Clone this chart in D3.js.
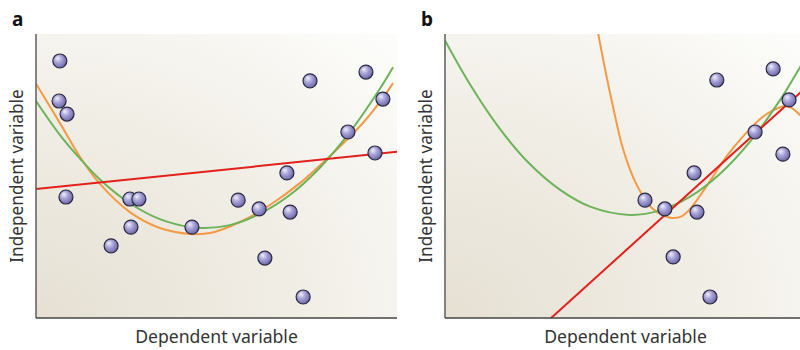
<!DOCTYPE html>
<html>
<head>
<meta charset="utf-8">
<script src="https://cdn.jsdelivr.net/npm/d3@7"></script>
<style>
  body { margin: 0; background: #fff; }
  svg { display: block; }
  text { font-family: "Noto Sans", "Open Sans", sans-serif; fill: #333; }
</style>
</head>
<body>
<div id="chart"></div>
<script>
// panel a: all observations
var pointsAX = [6.6, 6.4, 8.6, 8.3, 20.8, 26.0, 28.5, 26.3, 43.2, 56.0, 61.8, 63.4, 69.5, 70.4, 74.0, 75.9, 86.4, 91.4, 93.9, 96.1];
var pointsAY = [90.5, 76.4, 71.8, 42.6, 25.4, 41.9, 41.9, 32.0, 32.0, 41.5, 38.4, 21.1, 51.1, 37.3, 7.4, 83.5, 65.5, 86.6, 58.1, 77.1];

// panel b: right-hand subset
var pointsBX = [55.4, 60.9, 63.2, 69.0, 69.8, 73.4, 75.3, 85.9, 90.9, 93.6, 95.3];
var pointsBY = [41.5, 38.4, 21.5, 51.1, 37.3, 7.4, 83.8, 65.5, 87.7, 57.7, 76.8];

// fitted curves
var linearAX = [0, 100];
var linearAY = [45.4, 58.5];
var quadAX = [0, 6.6, 12.2, 17.7, 26.0, 34.3, 42.7, 46.5, 53.7, 62.0, 70.4, 78.7, 87.0, 95.3, 98.9];
var quadAY = [76.4, 64.5, 56.1, 48.8, 40.4, 34.8, 32.0, 31.7, 32.7, 36.7, 43.4, 53.0, 65.5, 80.8, 88.3];
var cubicAX = [0, 6.6, 12.2, 17.7, 26.0, 34.3, 42.7, 48.2, 56.5, 64.8, 73.1, 81.4, 89.8, 95.3, 98.9];
var cubicAY = [82.5, 68.7, 56.7, 47.2, 37.3, 31.7, 29.6, 29.9, 33.8, 39.8, 47.5, 57.0, 67.6, 76.1, 82.7];

var linearBX = [29.4, 100];
var linearBY = [0, 81.2];
var quadBX = [0, 6.9, 15.2, 23.5, 31.9, 40.2, 51.2, 59.6, 67.9, 76.2, 84.5, 92.8, 98.3, 100];
var quadBY = [97.7, 82.3, 66.6, 54.2, 45.1, 39.2, 36.3, 37.9, 42.7, 50.8, 62.1, 76.7, 88.2, 91.9];
var polyBX = [42.4, 44.0, 45.7, 47.4, 49.0, 50.7, 52.6, 54.8, 57.3, 60.1, 62.9, 65.7, 68.1, 70.6, 73.4, 76.7, 80.3, 83.9, 87.3, 90.6, 93.9, 96.1, 98.3, 100];
var polyBY = [100.4, 89.8, 79.2, 69.4, 60.9, 54.2, 48.2, 43.0, 38.7, 36.3, 35.2, 35.9, 38.7, 43.0, 48.2, 54.6, 60.6, 65.8, 70.1, 72.9, 74.6, 73.9, 71.5, 69.4];

var colors = { linear: "#e3201b", quad: "#6cb35a", poly: "#f59a44" };

var svg = d3.select("#chart").append("svg")
    .attr("width", 800)
    .attr("height", 350);

var defs = svg.append("defs");

var bg = defs.append("radialGradient")
    .attr("id", "bg")
    .attr("cx", 0).attr("cy", 1).attr("r", 1.35)
    .attr("fx", 0).attr("fy", 1);
bg.append("stop").attr("offset", "0%").attr("stop-color", "#e6e0d3");
bg.append("stop").attr("offset", "55%").attr("stop-color", "#f1eee6");
bg.append("stop").attr("offset", "100%").attr("stop-color", "#fcfcfa");

var ball = defs.append("radialGradient")
    .attr("id", "ball")
    .attr("cx", 0.4).attr("cy", 0.4).attr("r", 0.6)
    .attr("fx", 0.35).attr("fy", 0.3);
ball.append("stop").attr("offset", "0%").attr("stop-color", "#f1f0fb");
ball.append("stop").attr("offset", "45%").attr("stop-color", "#aaa6d9");
ball.append("stop").attr("offset", "100%").attr("stop-color", "#6e69a9");

function zip(xs, ys) {
    return xs.map(function(x, i) { return [x, ys[i]]; });
}

function panel(opts) {
    var x = d3.scaleLinear().domain([0, 100]).range([opts.left, opts.left + 361]);
    var y = d3.scaleLinear().domain([0, 100]).range([318, 34]);

    defs.append("clipPath")
        .attr("id", "clip-" + opts.name)
        .append("rect")
        .attr("x", x(0)).attr("y", y(100))
        .attr("width", x(100) - x(0)).attr("height", y(0) - y(100));

    var g = svg.append("g").attr("class", "panel");

    g.append("rect")
        .attr("x", x(0)).attr("y", y(100))
        .attr("width", x(100) - x(0)).attr("height", y(0) - y(100))
        .attr("fill", "url(#bg)");

    var plot = g.append("g").attr("clip-path", "url(#clip-" + opts.name + ")");

    var line = d3.line()
        .x(function(d) { return x(d[0]); })
        .y(function(d) { return y(d[1]); })
        .curve(d3.curveCatmullRom.alpha(0.5));

    opts.curves.forEach(function(c) {
        plot.append("path")
            .datum(zip(c.xs, c.ys))
            .attr("fill", "none")
            .attr("stroke", c.color)
            .attr("stroke-width", 2)
            .attr("d", line);
    });

    g.append("line")
        .attr("x1", x(0)).attr("x2", x(0))
        .attr("y1", y(100)).attr("y2", y(0))
        .attr("stroke", "#666").attr("stroke-width", 1.6);
    g.append("line")
        .attr("x1", x(0)).attr("x2", x(100))
        .attr("y1", y(0)).attr("y2", y(0))
        .attr("stroke", "#444").attr("stroke-width", 1.6);

    g.selectAll("circle")
        .data(zip(opts.px, opts.py))
        .enter().append("circle")
        .attr("cx", function(d) { return x(d[0]); })
        .attr("cy", function(d) { return y(d[1]); })
        .attr("r", 7)
        .attr("fill", "url(#ball)")
        .attr("stroke", "#2b2940")
        .attr("stroke-width", 1.2);

    g.append("text")
        .attr("x", x(50))
        .attr("y", 343)
        .attr("text-anchor", "middle")
        .attr("font-size", 17.6)
        .text("Dependent variable");

    g.append("text")
        .attr("transform", "translate(" + (x(0) - 13) + "," + y(50) + ") rotate(-90)")
        .attr("text-anchor", "middle")
        .attr("font-size", 17.2)
        .text("Independent variable");

    g.append("text")
        .attr("x", opts.left - 24)
        .attr("y", 26)
        .attr("font-family", "Liberation Sans, Arial, sans-serif")
        .attr("font-weight", "bold")
        .attr("font-size", 19)
        .style("fill", "#111")
        .text(opts.name);
}

panel({
    name: "a", left: 36, px: pointsAX, py: pointsAY,
    curves: [
        { xs: cubicAX, ys: cubicAY, color: colors.poly },
        { xs: quadAX, ys: quadAY, color: colors.quad },
        { xs: linearAX, ys: linearAY, color: colors.linear }
    ]
});

panel({
    name: "b", left: 445, px: pointsBX, py: pointsBY,
    curves: [
        { xs: polyBX, ys: polyBY, color: colors.poly },
        { xs: quadBX, ys: quadBY, color: colors.quad },
        { xs: linearBX, ys: linearBY, color: colors.linear }
    ]
});
</script>
</body>
</html>
